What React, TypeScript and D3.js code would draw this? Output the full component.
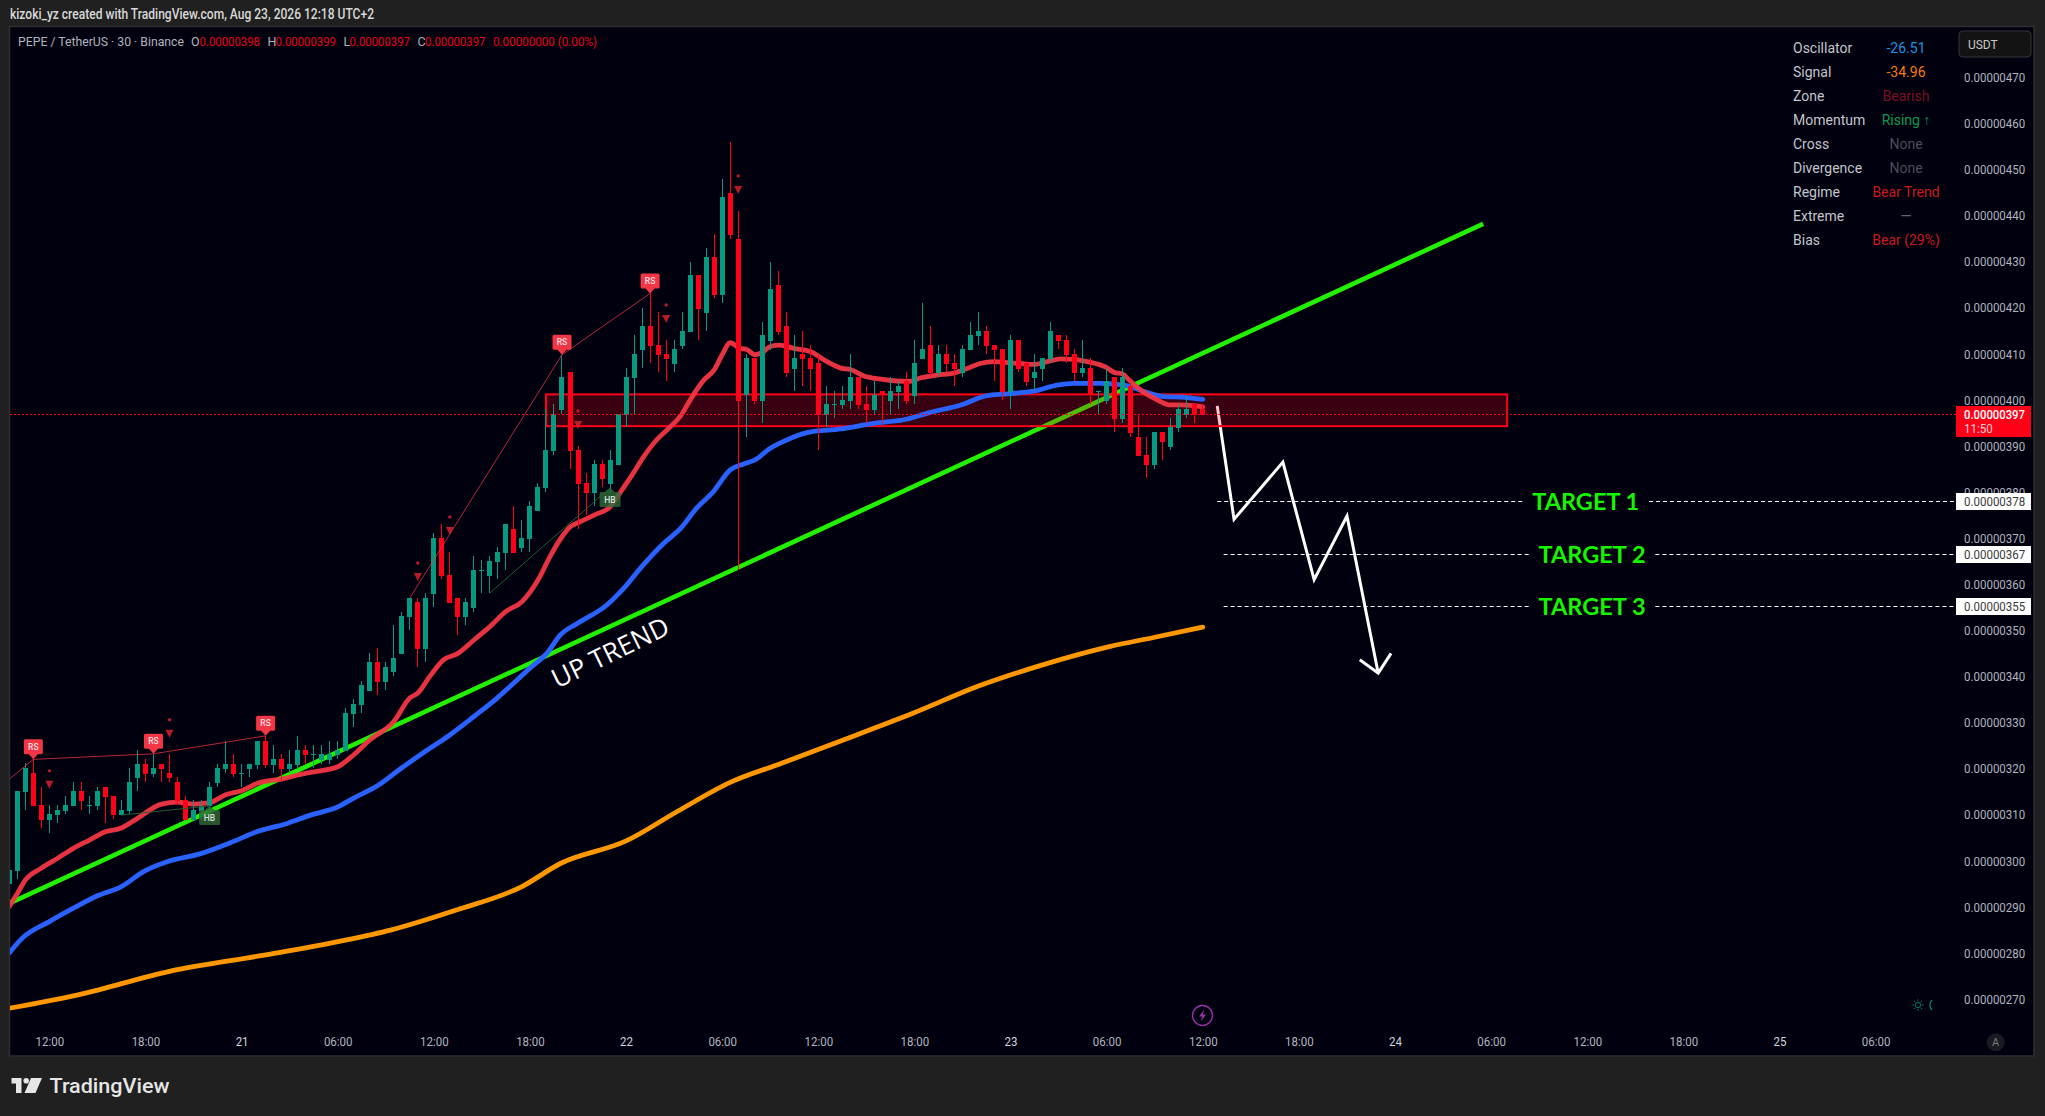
import React, { useEffect, useRef } from "react";
import * as d3 from "d3";

// prices are in units of 0.00000001 USDT, one entry per 30 minute bar
const opens = [
  295.0, 297.9, 315.0, 319.0, 312.1, 308.9, 309.9, 310.8, 311.9, 315.2,
  312.0, 311.9, 316.0, 314.1, 309.9, 310.8, 318.0, 321.0, 318.8, 321.0,
  319.1, 317.1, 313.2, 308.9, 310.8, 311.9, 316.9, 319.9, 321.0, 318.8,
  319.9, 320.8, 326.0, 320.8, 322.1, 319.9, 320.8, 324.0, 323.0, 321.9,
  321.9, 323.0, 323.8, 331.9, 333.8, 336.9, 343.1, 338.8, 341.0, 344.9,
  352.9, 356.2, 346.0, 357.9, 370.1, 362.0, 357.0, 352.9, 354.9, 363.0,
  361.8, 364.8, 366.8, 372.0, 367.9, 369.8, 375.9, 380.9, 388.9, 397.8,
  406.1, 389.1, 382.0, 379.8, 386.1, 381.8, 385.9, 396.7, 404.8, 410.8,
  416.0, 411.9, 410.0, 407.8, 411.7, 414.7, 427.1, 418.9, 431.0, 422.8,
  444.9, 434.9, 401.1, 409.1, 399.8, 412.8, 424.9, 416.0, 406.7, 410.0,
  409.1, 408.0, 396.7, 398.9, 398.9, 399.8, 405.0, 399.1, 397.8, 401.9,
  399.8, 401.7, 404.1, 400.9, 408.9, 411.9, 405.8, 410.0, 408.0, 405.8,
  410.8, 413.9, 415.0, 411.9, 411.1, 401.7, 413.0, 408.0, 404.8, 406.7,
  408.9, 414.1, 413.0, 410.0, 405.8, 406.9, 401.8, 399.8, 405.0, 395.9,
  403.0, 392.0, 388.1, 385.9, 393.0, 389.8, 393.9, 396.7, 399.1, 398.0,
];
const highs = [
  298.3, 315.2, 321.2, 322.0, 315.9, 312.1, 312.1, 314.1, 317.1, 317.1,
  314.1, 316.0, 316.0, 314.1, 313.2, 320.1, 324.0, 322.1, 323.2, 321.0,
  323.2, 318.2, 314.1, 313.2, 313.2, 317.1, 321.0, 326.0, 323.2, 321.0,
  321.0, 326.0, 327.1, 325.1, 323.2, 324.0, 327.1, 325.1, 325.1, 325.1,
  326.0, 326.0, 333.2, 335.1, 339.0, 345.1, 346.2, 343.1, 351.2, 354.0,
  357.0, 357.0, 358.1, 371.1, 373.1, 367.0, 357.0, 357.0, 366.1, 365.3,
  366.1, 368.1, 373.1, 377.0, 374.0, 378.1, 382.0, 398.0, 399.1, 409.8,
  406.1, 390.0, 384.2, 387.0, 387.0, 389.1, 397.0, 406.9, 414.1, 420.0,
  423.1, 419.1, 413.0, 413.0, 419.1, 429.9, 427.1, 433.0, 436.0, 447.9,
  456.0, 441.0, 410.0, 409.1, 416.9, 429.9, 428.0, 419.1, 414.1, 415.0,
  411.9, 409.8, 403.0, 401.9, 403.0, 410.0, 405.0, 403.0, 404.1, 401.9,
  405.0, 404.1, 406.1, 413.0, 421.0, 416.0, 411.9, 411.9, 410.0, 411.9,
  416.9, 419.1, 416.0, 411.9, 411.1, 414.1, 413.0, 408.0, 410.0, 409.1,
  416.9, 414.1, 414.1, 411.1, 413.0, 409.1, 401.9, 406.9, 405.0, 406.9,
  403.7, 397.0, 392.0, 393.0, 393.0, 396.1, 399.1, 401.1, 399.1, 399.1,
];
const lows = [
  294.8, 296.0, 311.0, 311.9, 307.1, 306.0, 308.1, 310.2, 311.9, 311.0,
  310.2, 311.0, 308.2, 309.1, 309.9, 310.2, 315.2, 317.1, 318.2, 317.1,
  317.1, 312.1, 308.9, 308.9, 308.9, 311.0, 316.0, 319.1, 318.2, 316.0,
  318.2, 319.9, 320.1, 319.1, 317.3, 319.1, 319.9, 321.0, 320.1, 321.0,
  321.0, 322.1, 323.8, 329.0, 332.1, 336.9, 336.0, 337.1, 340.1, 344.9,
  350.1, 342.1, 343.1, 355.1, 361.2, 355.9, 349.0, 351.2, 354.0, 358.1,
  358.1, 361.2, 363.1, 366.8, 367.0, 367.0, 375.9, 380.0, 388.1, 397.0,
  385.0, 372.0, 375.0, 377.0, 381.1, 379.7, 385.9, 394.1, 397.0, 406.9,
  408.0, 406.1, 404.1, 406.1, 411.1, 414.7, 413.0, 415.0, 422.1, 421.0,
  434.9, 363.1, 392.0, 399.1, 395.0, 410.8, 414.1, 405.0, 401.9, 403.0,
  401.9, 389.1, 394.1, 396.1, 398.0, 398.0, 398.0, 395.0, 397.0, 395.0,
  397.0, 398.0, 399.1, 399.1, 408.9, 405.2, 405.0, 405.8, 403.0, 405.0,
  410.8, 411.9, 410.0, 404.1, 400.0, 398.0, 406.1, 403.0, 401.9, 404.1,
  408.0, 411.1, 408.0, 404.1, 405.0, 399.1, 396.7, 399.1, 393.0, 395.0,
  392.0, 387.8, 383.1, 385.0, 387.0, 389.1, 393.0, 396.1, 395.0, 396.7,
];
const closes = [
  298.0, 315.2, 320.1, 311.9, 308.9, 310.2, 311.0, 312.1, 315.2, 313.0,
  312.1, 315.2, 313.9, 309.9, 311.0, 317.1, 321.0, 318.8, 320.1, 319.9,
  318.0, 313.0, 308.9, 311.0, 311.9, 316.0, 320.1, 321.0, 318.8, 319.0,
  321.0, 326.0, 320.8, 322.1, 319.9, 321.0, 324.0, 323.0, 323.2, 323.2,
  323.2, 324.0, 332.1, 334.0, 338.2, 343.1, 338.8, 342.1, 344.0, 353.1,
  357.0, 346.0, 357.0, 370.1, 361.8, 355.9, 352.9, 356.2, 363.1, 363.1,
  365.1, 367.0, 373.1, 366.8, 370.1, 377.0, 381.1, 389.1, 397.0, 405.0,
  388.9, 381.8, 379.8, 386.1, 382.9, 387.0, 397.0, 405.0, 410.0, 416.0,
  411.7, 409.8, 408.9, 411.1, 415.0, 427.1, 419.7, 431.0, 422.8, 444.0,
  435.8, 399.8, 409.1, 399.8, 414.1, 424.1, 414.7, 405.8, 409.1, 408.9,
  406.7, 396.7, 399.1, 399.1, 400.0, 405.0, 398.9, 397.8, 401.1, 401.1,
  401.9, 403.0, 399.8, 408.0, 411.1, 405.8, 410.0, 407.8, 406.7, 411.1,
  414.1, 415.0, 411.7, 410.8, 401.7, 413.0, 406.7, 403.9, 406.1, 409.1,
  415.0, 412.8, 409.8, 405.8, 406.9, 401.1, 401.9, 404.1, 395.9, 405.0,
  392.8, 387.8, 385.9, 393.0, 390.9, 394.1, 398.0, 398.0, 396.7, 396.7,
];

const redBars = [
  0, 1, 2, 4, 6, 8, 10, 12, 14, 16, 19, 21, 23, 25, 27, 29, 31, 33, 34, 36, 38,
  41, 43, 45, 48, 50, 51, 52.5, 54.2, 56, 58, 60, 62, 64, 66, 67.5, 69, 70, 71.3,
  73, 75, 76.5, 77.9, 79.2, 80.8, 82.3, 84, 85, 86.7, 88, 89, 90, 91.2, 92, 93.1,
  94, 95, 96.2, 97.9, 100, 101.7, 103.8, 105, 106.7, 108.8, 110.8, 112.3, 113.8,
  115.8, 117.9, 120, 121.2, 122.9, 124.6, 126.2, 127.9, 129.6, 131.2, 132.9,
  134.6, 136.9, 137.9, 139, 139.8, 141.2, 143.3, 145, 146.2, 149,
];
const redValues = [
  290.1, 292.9, 295.8, 298.4, 300.5, 302.7, 304.5, 306.3, 307.1, 309.2, 312.3,
  312.7, 312.3, 312.6, 314.3, 315.2, 316.8, 317.5, 317.7, 318.6, 319.3, 320.4,
  323.0, 326.2, 330.2, 335.3, 336.4, 340.0, 343.6, 345.0, 347.9, 350.8, 354.1,
  356.2, 360.9, 366.0, 370.3, 372.4, 373.6, 375.0, 376.8, 380.5, 384.1, 387.7,
  391.3, 393.8, 397.0, 400.0, 404.3, 406.5, 409.8, 412.4, 411.2, 411.0, 409.8,
  410.3, 411.6, 411.9, 411.2, 410.5, 408.7, 406.9, 406.6, 405.2, 404.5, 404.1,
  404.0, 404.8, 405.4, 405.8, 407.1, 407.9, 408.3, 408.1, 407.9, 407.7, 408.3,
  408.9, 408.8, 408.3, 407.1, 406.0, 405.6, 404.3, 402.2, 400.0, 398.9, 398.9,
  398.5,
];

const blueBars = [
  0, 1.5, 5, 8, 11, 14, 16.8, 19.7, 23.8, 28, 30.9, 34.7, 37.6, 40.9, 43, 45.9,
  48.8, 52, 55, 58, 60.9, 62.5, 65, 67.1, 68.8, 70.9, 74.6, 76.7, 78.8, 81.7,
  83.8, 85.8, 87.9, 90, 91.7, 93.1, 95, 96.2, 99.6, 103.8, 107.9, 112, 115, 118.8,
  122, 124.6, 127.9, 130.8, 132.9, 136.2, 139.2, 141.7, 144.2, 146.2, 149,
];
const blueValues = [
  280.0, 283.0, 286.8, 289.7, 292.4, 294.4, 297.7, 299.8, 301.5, 304.2, 306.3,
  308.1, 309.9, 311.6, 313.6, 316.2, 319.9, 323.8, 327.3, 331.3, 335.3, 337.8,
  341.8, 345.0, 349.0, 351.5, 355.5, 359.1, 363.5, 368.9, 372.1, 376.5, 380.1,
  384.8, 386.1, 387.0, 389.5, 390.6, 392.9, 393.7, 394.9, 395.8, 397.3, 398.9,
  400.9, 401.3, 401.9, 403.2, 403.6, 403.6, 403.2, 401.8, 400.7, 400.6, 400.1,
];

const orangeBars = [
  0, 8.6, 20, 31.4, 41.2, 47.7, 55.8, 64, 68.8, 77, 83.5, 90, 96.5, 104.7, 112.8,
  121, 129, 137.2, 143, 149,
];
const orangeValues = [
  268.0, 270.9, 276.0, 279.4, 282.5, 285.0, 289.3, 294.4, 299.4, 304.3, 310.8,
  317.0, 321.2, 326.6, 332.0, 337.9, 342.5, 346.4, 348.5, 350.7,
];

const trendBars = [0.2, 184];
const trendValues = [290.9, 438.2];

const arrowBars = [150.8, 152.9, 159, 162.9, 167, 170.9];
const arrowValues = [398.7, 374.1, 386.5, 361, 374.8, 340.7];
const arrowHeadBars = [168.6, 170.9, 172.5];
const arrowHeadValues = [343.6, 340.7, 345];

const zoneBars = [67, 187];
const zoneValues = [401.2, 394.3];

const rsBars = [3, 18, 32, 69, 80];
const rsFirstLeg = [0, 317.7];
const rsSecondLegStart = 50;
const hbBars = [25, 75];
const hbValues = [311.9, 380.9];
const hbLegBars = [14, 60];
const hbLegValues = [309.9, 358.1];
const warnBars = [5, 20, 51, 55, 71, 82, 91];
const warnValues = [315.6, 326.7, 360.7, 370.7, 393.7, 416.7, 444.7];

const targetValues = [378, 366.5, 355.2];
const targetNames = ["TARGET 1", "TARGET 2", "TARGET 3"];
const targetLabels = ["0.00000378", "0.00000367", "0.00000355"];
const targetStartBars = [150.8, 151.6, 151.6];
const targetGapBars = [[188.9, 204.7], [189.7, 205.5], [189.7, 205.5]];

const lastPrice = 397;
const priceTicks = d3.range(270, 471, 10);
const timeLabels = [
  "12:00", "18:00", "21", "06:00", "12:00", "18:00", "22", "06:00", "12:00", "18:00",
  "23", "06:00", "12:00", "18:00", "24", "06:00", "12:00", "18:00", "25", "06:00",
];
const timeBars = timeLabels.map((_, i) => 5 + i * 12);

const tableLabels = ["Oscillator", "Signal", "Zone", "Momentum", "Cross", "Divergence", "Regime", "Extreme", "Bias"];
const tableValues = ["-26.51", "-34.96", "Bearish", "Rising ↑", "None", "None", "Bear Trend", "—", "Bear (29%)"];
const tableColors = ["#1a94e0", "#f57c10", "#7c1020", "#0c9a50", "#4c4c5c", "#4c4c5c", "#c81c1c", "#666670", "#c81c1c"];

const ohlcLabels = [
  { k: "O", v: "0.00000398", kx: 191, vx: 199.5 },
  { k: "H", v: "0.00000399", kx: 267.5, vx: 275.5 },
  { k: "L", v: "0.00000397", kx: 343.5, vx: 349.5 },
  { k: "C", v: "0.00000397", kx: 417.5, vx: 425 },
];

const WIDTH = 2045;
const HEIGHT = 1116;
const FONT = "Roboto, 'Noto Sans', sans-serif";
const UP = "#089981";
const DOWN = "#ff0018";
const TEXT = "#b2b5be";
const SMALL = "13.3px";

// the original labels are narrower than Roboto, squeeze glyphs to match
function squeeze(sel: any, factor = 0.865) {
  sel.each(function (this: SVGTextElement) {
    this.setAttribute("textLength", String(this.getComputedTextLength() * factor));
    this.setAttribute("lengthAdjust", "spacingAndGlyphs");
  });
  return sel;
}

export default function App() {
  const svgRef = useRef<SVGSVGElement>(null);

  useEffect(() => {
    if (!svgRef.current) return;
    const svg = d3.select(svgRef.current);
    svg.selectAll("*").remove();
    svg.attr("width", WIDTH).attr("height", HEIGHT).style("font-family", FONT);

    const x = d3.scaleLinear().domain([0, 149]).range([9.3, 1202.8]);
    const y = d3.scaleLinear().domain([470, 270]).range([77.3, 999]);

    svg.append("rect").attr("width", WIDTH).attr("height", HEIGHT).attr("fill", "#202020");
    svg
      .append("rect")
      .attr("x", 9.5)
      .attr("y", 26.5)
      .attr("width", 2024.5)
      .attr("height", 1029.5)
      .attr("fill", "#00000f")
      .attr("stroke", "#2e2e33")
      .attr("stroke-width", 1.5);

    svg
      .append("text")
      .attr("x", 10)
      .attr("y", 19)
      .attr("fill", "#d8d8d8")
      .attr("textLength", 364)
      .attr("lengthAdjust", "spacingAndGlyphs")
      .style("font-size", "14px")
      .style("font-weight", 500)
      .text("kizoki_yz created with TradingView.com, Aug 23, 2026 12:18 UTC+2");

    const defs = svg.append("defs");
    defs
      .append("clipPath")
      .attr("id", "plot")
      .append("rect")
      .attr("x", 10)
      .attr("y", 27)
      .attr("width", 1946)
      .attr("height", 1029);

    const plot = svg.append("g").attr("clip-path", "url(#plot)");

    const series = (bars: number[], values: number[]) =>
      d3
        .line<number>()
        .x((_d, i) => x(bars[i]))
        .y((d) => y(d))
        .curve(d3.curveMonotoneX)(values) as string;
    const straight = (bars: number[], values: number[]) =>
      d3
        .line<number>()
        .x((_d, i) => x(bars[i]))
        .y((d) => y(d))(values) as string;

    // trend line and drawn arrow sit under the zone box
    plot
      .append("path")
      .attr("d", straight(trendBars, trendValues))
      .attr("fill", "none")
      .attr("stroke", "#22f000")
      .attr("stroke-width", 4.6);

    [straight(arrowBars, arrowValues), straight(arrowHeadBars, arrowHeadValues)].forEach((d) => {
      plot
        .append("path")
        .attr("d", d)
        .attr("fill", "none")
        .attr("stroke", "#ffffff")
        .attr("stroke-width", 3)
        .attr("stroke-linejoin", "miter");
    });

    plot
      .append("rect")
      .attr("x", x(zoneBars[0]))
      .attr("y", y(zoneValues[0]))
      .attr("width", x(zoneBars[1]) - x(zoneBars[0]))
      .attr("height", y(zoneValues[1]) - y(zoneValues[0]))
      .attr("fill", "#ff0018")
      .attr("fill-opacity", 0.22)
      .attr("stroke", "#ff0018")
      .attr("stroke-width", 2);

    [
      { bars: orangeBars, values: orangeValues, color: "#ff9800", op: 1 },
      { bars: blueBars, values: blueValues, color: "#2962ff", op: 1 },
      { bars: redBars, values: redValues, color: "#f23645", op: 0.95 },
    ].forEach((s) => {
      plot
        .append("path")
        .attr("d", series(s.bars, s.values))
        .attr("fill", "none")
        .attr("stroke", s.color)
        .attr("stroke-opacity", s.op)
        .attr("stroke-width", 4.8)
        .attr("stroke-linecap", "round");
    });

    // candles
    const candles = plot
      .selectAll("g.candle")
      .data(opens.map((o, i) => ({ i, o, h: highs[i], l: lows[i], c: closes[i] })))
      .enter()
      .append("g")
      .attr("class", "candle")
      .attr("shape-rendering", "crispEdges");
    candles
      .append("rect")
      .attr("x", (d) => Math.floor(x(d.i)))
      .attr("y", (d) => Math.round(y(d.h)))
      .attr("width", 1)
      .attr("height", (d) => Math.round(y(d.l)) - Math.round(y(d.h)))
      .attr("fill", (d) => (d.c >= d.o ? UP : DOWN));
    candles
      .append("rect")
      .attr("x", (d) => Math.floor(x(d.i)) - 2)
      .attr("y", (d) => Math.round(y(Math.max(d.o, d.c))))
      .attr("width", 5)
      .attr("height", (d) => Math.max(1, Math.round(Math.abs(y(d.o) - y(d.c)))))
      .attr("fill", (d) => (d.c >= d.o ? UP : DOWN));

    // divergence legs
    const rsLegA = [rsFirstLeg[1], ...rsBars.slice(0, 3).map((b) => highs[b])];
    const rsLegB = [highs[rsSecondLegStart], ...rsBars.slice(3).map((b) => highs[b])];
    [
      straight([rsFirstLeg[0], ...rsBars.slice(0, 3)], rsLegA),
      straight([rsSecondLegStart, ...rsBars.slice(3)], rsLegB),
    ].forEach((d) => {
      plot
        .append("path")
        .attr("d", d)
        .attr("fill", "none")
        .attr("stroke", "#f23645")
        .attr("stroke-opacity", 0.75)
        .attr("stroke-width", 1);
    });
    hbBars.forEach((b, i) => {
      plot
        .append("path")
        .attr("d", straight([hbLegBars[i], b], [hbLegValues[i], hbValues[i]]))
        .attr("fill", "none")
        .attr("stroke", "#2b5a33")
        .attr("stroke-width", 1);
    });

    // warning markers above the bars
    warnBars.forEach((b, i) => {
      const px = x(b);
      const py = y(warnValues[i]);
      plot
        .append("path")
        .attr("d", `M${px - 4},${py - 8}L${px + 4},${py - 8}L${px},${py}Z`)
        .attr("fill", "#d81f2c")
        .attr("fill-opacity", 0.85);
      plot
        .append("circle")
        .attr("cx", px)
        .attr("cy", py - 18)
        .attr("r", 1.7)
        .attr("fill", "#d81f2c")
        .attr("fill-opacity", 0.85);
    });

    // RS tags hang on the bar highs
    rsBars.forEach((b) => {
      const px = x(b);
      const py = y(highs[b]);
      plot
        .append("path")
        .attr(
          "d",
          `M${px},${py}L${px - 4.5},${py - 5}H${px - 8}Q${px - 9.5},${py - 5} ${px - 9.5},${py - 6.5}V${py - 18.5}Q${px - 9.5},${py - 20} ${px - 8},${py - 20}H${px + 8}Q${px + 9.5},${py - 20} ${px + 9.5},${py - 18.5}V${py - 6.5}Q${px + 9.5},${py - 5} ${px + 8},${py - 5}H${px + 4.5}Z`,
        )
        .attr("fill", "#f23645");
      plot
        .append("text")
        .attr("x", px)
        .attr("y", py - 9.5)
        .attr("text-anchor", "middle")
        .attr("fill", "#ffdfe3")
        .style("font-size", "8.5px")
        .style("font-weight", 500)
        .text("RS");
    });

    hbBars.forEach((b, i) => {
      const px = x(b);
      const py = y(hbValues[i]);
      plot
        .append("path")
        .attr(
          "d",
          `M${px},${py}L${px + 5},${py + 4}H${px + 9}Q${px + 10.5},${py + 4} ${px + 10.5},${py + 5.5}V${py + 17.5}Q${px + 10.5},${py + 19} ${px + 9},${py + 19}H${px - 9}Q${px - 10.5},${py + 19} ${px - 10.5},${py + 17.5}V${py + 5.5}Q${px - 10.5},${py + 4} ${px - 9},${py + 4}H${px - 5}Z`,
        )
        .attr("fill", "#2f6a38")
        .attr("fill-opacity", 0.8);
      plot
        .append("text")
        .attr("x", px)
        .attr("y", py + 15)
        .attr("text-anchor", "middle")
        .attr("fill", "#d8e0d8")
        .style("font-size", "8.5px")
        .style("font-weight", 500)
        .text("HB");
    });

    // last price line
    plot
      .append("line")
      .attr("x1", 10)
      .attr("x2", 1956)
      .attr("y1", Math.round(y(lastPrice)) + 0.5)
      .attr("y2", Math.round(y(lastPrice)) + 0.5)
      .attr("stroke", "#ff0018")
      .attr("stroke-width", 1)
      .attr("stroke-dasharray", "2 2");

    plot
      .append("text")
      .attr("transform", `translate(${x(75)},${y(345.3)}) rotate(-26)`)
      .attr("text-anchor", "middle")
      .attr("dominant-baseline", "central")
      .attr("fill", "#ffffff")
      .style("font-size", "26.5px")
      .style("font-family", "'Open Sans', sans-serif")
      .text("UP TREND");

    // targets
    targetValues.forEach((v, i) => {
      const py = Math.round(y(v)) + 0.5;
      const [g0, g1] = targetGapBars[i];
      [[x(targetStartBars[i]), x(g0)], [x(g1), 1956]].forEach(([a, b]) => {
        plot
          .append("line")
          .attr("x1", a)
          .attr("x2", b)
          .attr("y1", py)
          .attr("y2", py)
          .attr("stroke", "#ffffff")
          .attr("stroke-dasharray", "4 3");
      });
      plot
        .append("text")
        .attr("x", (x(g0) + x(g1)) / 2)
        .attr("y", py)
        .attr("dy", "0.36em")
        .attr("text-anchor", "middle")
        .attr("fill", "#16f500")
        .style("font-size", "23.5px")
        .style("font-weight", 700)
        .style("font-family", "Lato, sans-serif")
        .text(targetNames[i]);
    });

    // price axis
    const yAxis = d3
      .axisRight(y)
      .tickValues(priceTicks)
      .tickSize(0)
      .tickFormat((d) => (+d / 1e8).toFixed(8));
    const yg = svg.append("g").attr("transform", "translate(1964,0)").call(yAxis);
    yg.select(".domain").remove();
    squeeze(
      yg
        .selectAll("text")
        .attr("x", 0)
        .attr("fill", TEXT)
        .style("font-size", SMALL)
        .style("font-family", FONT),
    );

    // time axis
    const xAxis = d3
      .axisBottom(x)
      .tickValues(timeBars)
      .tickSize(0)
      .tickFormat((_d, i) => timeLabels[i]);
    const xg = svg.append("g").attr("transform", "translate(0,1036.5)").call(xAxis);
    xg.select(".domain").remove();
    squeeze(
      xg
        .selectAll("text")
        .attr("y", 0)
        .attr("dy", "0.71em")
        .attr("fill", (_d, i) => (timeLabels[i].length === 2 ? "#d1d4dc" : TEXT))
        .style("font-size", SMALL)
        .style("font-family", FONT),
    );

    // price labels on the axis
    targetValues.forEach((v, i) => {
      const py = Math.round(y(v));
      svg.append("rect").attr("x", 1956).attr("y", py - 8).attr("width", 75).attr("height", 17).attr("fill", "#ffffff");
      squeeze(
        svg
          .append("text")
          .attr("x", 1964)
          .attr("y", py + 0.5)
          .attr("dy", "0.36em")
          .attr("fill", "#3a3a3a")
          .style("font-size", SMALL)
          .text(targetLabels[i]),
      );
    });
    svg.append("rect").attr("x", 1956).attr("y", 406).attr("width", 75).attr("height", 31).attr("fill", "#ff0018");
    squeeze(
      svg
        .append("text")
        .attr("x", 1964)
        .attr("y", 414.5)
        .attr("dy", "0.36em")
        .attr("fill", "#ffffff")
        .style("font-size", SMALL)
        .style("font-weight", 500)
        .text("0.00000397"),
      0.85,
    );
    squeeze(
      svg
        .append("text")
        .attr("x", 1964)
        .attr("y", 428.5)
        .attr("dy", "0.36em")
        .attr("fill", "#ffd2d6")
        .style("font-size", SMALL)
        .text("11:50"),
    );

    // symbol legend
    svg
      .append("text")
      .attr("x", 18)
      .attr("y", 46)
      .attr("fill", TEXT)
      .attr("textLength", 166)
      .attr("lengthAdjust", "spacingAndGlyphs")
      .style("font-size", SMALL)
      .text("PEPE / TetherUS · 30 · Binance");
    ohlcLabels.forEach((d) => {
      svg.append("text").attr("x", d.kx).attr("y", 46).attr("fill", TEXT).style("font-size", "12.5px").text(d.k);
      svg
        .append("text")
        .attr("x", d.vx)
        .attr("y", 46)
        .attr("fill", "#e8001c")
        .attr("textLength", 60.5)
        .attr("lengthAdjust", "spacingAndGlyphs")
        .style("font-size", SMALL)
        .text(d.v);
    });
    svg
      .append("text")
      .attr("x", 493)
      .attr("y", 46)
      .attr("fill", "#e8001c")
      .attr("textLength", 104)
      .attr("lengthAdjust", "spacingAndGlyphs")
      .style("font-size", SMALL)
      .text("0.00000000 (0.00%)");

    // indicator table
    tableLabels.forEach((label, i) => {
      const py = 48.3 + i * 24;
      svg
        .append("text")
        .attr("x", 1793)
        .attr("y", py)
        .attr("dy", "0.36em")
        .attr("fill", "#c4c6cc")
        .style("font-size", "14px")
        .text(label);
      svg
        .append("text")
        .attr("x", 1906)
        .attr("y", py)
        .attr("dy", "0.36em")
        .attr("text-anchor", "middle")
        .attr("fill", tableColors[i])
        .style("font-size", "14px")
        .text(tableValues[i]);
    });

    // currency button
    svg
      .append("rect")
      .attr("x", 1959)
      .attr("y", 31)
      .attr("width", 72)
      .attr("height", 26)
      .attr("rx", 4)
      .attr("fill", "#131313")
      .attr("stroke", "#35353a");
    squeeze(
      svg
        .append("text")
        .attr("x", 1968)
        .attr("y", 44.5)
        .attr("dy", "0.36em")
        .attr("fill", "#c8c8c8")
        .style("font-size", SMALL)
        .text("USDT"),
      0.9,
    );

    // small chart icons
    const flash = svg.append("g").attr("transform", "translate(1202.5,1015.5)");
    flash.append("circle").attr("r", 10).attr("fill", "none").attr("stroke", "#9c2fa8").attr("stroke-width", 1.4);
    flash.append("path").attr("d", "M1.6,-6L-3.4,1H-0.4L-1.6,6L3.4,-1H0.4Z").attr("fill", "#9c2fa8");

    const sun = svg.append("g").attr("transform", "translate(1918,1005)").attr("stroke", "#0a7a68").attr("fill", "none");
    sun.append("circle").attr("r", 2.6);
    d3.range(8).forEach((k) => {
      const a = (k * Math.PI) / 4;
      sun
        .append("line")
        .attr("x1", Math.cos(a) * 3.8)
        .attr("y1", Math.sin(a) * 3.8)
        .attr("x2", Math.cos(a) * 5.6)
        .attr("y2", Math.sin(a) * 5.6);
    });
    sun.append("path").attr("d", "M14,-5A7,7 0 0 0 14,5").attr("stroke-width", 1.4);

    svg.append("circle").attr("cx", 1995.7).attr("cy", 1042.3).attr("r", 9).attr("fill", "#1a1a22");
    svg
      .append("text")
      .attr("x", 1995.7)
      .attr("y", 1042.5)
      .attr("dy", "0.36em")
      .attr("text-anchor", "middle")
      .attr("fill", "#77777f")
      .style("font-size", "11px")
      .text("A");

    // TradingView mark
    const logo = svg.append("g").attr("fill", "#e6e6e6");
    logo.append("path").attr("d", "M11.5,1078H21.5V1093H16V1083.5H11.5Z");
    logo.append("circle").attr("cx", 26.2).attr("cy", 1080.8).attr("r", 2.8);
    logo.append("path").attr("d", "M31,1078H42L35.5,1093H24.5Z");
    svg
      .append("text")
      .attr("x", 49.5)
      .attr("y", 1092.5)
      .attr("fill", "#e6e6e6")
      .attr("textLength", 120)
      .attr("lengthAdjust", "spacingAndGlyphs")
      .style("font-size", "21px")
      .style("font-weight", 500)
      .text("TradingView");
  }, []);

  return <svg ref={svgRef} style={{ position: "absolute", left: 0, top: 0, display: "block" }} />;
}
